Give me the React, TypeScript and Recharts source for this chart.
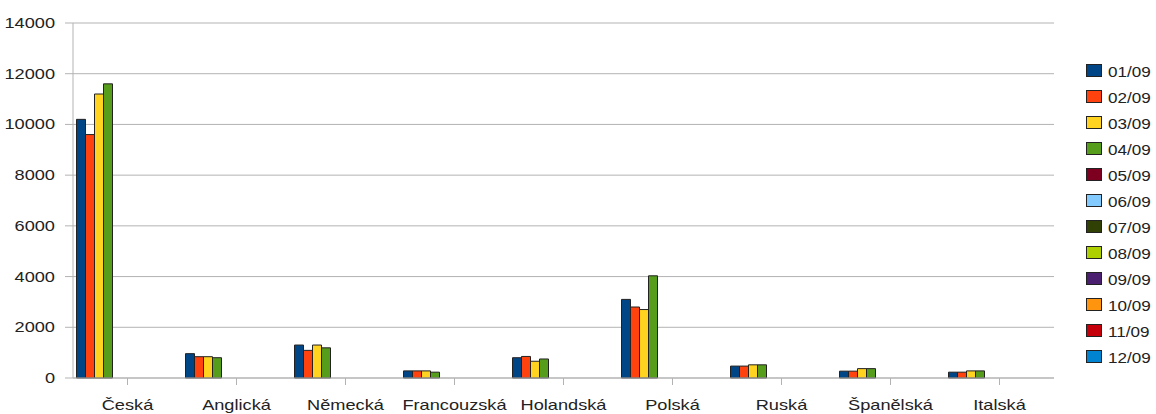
import React from 'react';
import { BarChart, Bar, XAxis, YAxis, CartesianGrid, Legend } from 'recharts';

const categories = ['Česká', 'Anglická', 'Německá', 'Francouzská', 'Holandská', 'Polská', 'Ruská', 'Španělská', 'Italská'];

// only the first four days have values
const day01 = [10200, 960, 1300, 280, 800, 3100, 470, 270, 230];
const day02 = [9600, 840, 1090, 280, 850, 2800, 470, 270, 230];
const day03 = [11200, 840, 1300, 280, 660, 2700, 520, 370, 280];
const day04 = [11600, 800, 1190, 230, 750, 4030, 520, 370, 280];

const seriesNames = ['01/09', '02/09', '03/09', '04/09', '05/09', '06/09', '07/09', '08/09', '09/09', '10/09', '11/09', '12/09'];
const seriesValues: number[][] = [day01, day02, day03, day04, [], [], [], [], [], [], [], []];
const seriesColors = ['#004586', '#ff420e', '#ffd320', '#579d1c', '#7e0021', '#83caff', '#314004', '#aecf00', '#4b1f6f', '#ff950e', '#c5000b', '#0084d1'];

const yTicks = [0, 2000, 4000, 6000, 8000, 10000, 12000, 14000];

const data = categories.map((name, i) => {
  const row: Record<string, string | number | null> = { name };
  seriesNames.forEach((_s, j) => {
    const v = seriesValues[j][i];
    row['s' + j] = v === undefined ? null : v;
  });
  return row;
});

const FONT = '"Liberation Sans", Arial, sans-serif';
const FONT_SIZE = 14;
const STRETCH = 1.3;
const GRID = '#b3b3b3';
const LEGEND_W = 70;

const YTick = (props: any) => {
  const { x, y, payload } = props;
  return (
    <g transform={`translate(${x},${y})`}>
      <text transform={`scale(${STRETCH},1)`} textAnchor="end" dy="0.36em" fill="#222" fontSize={FONT_SIZE} fontFamily={FONT}>
        {payload.value}
      </text>
    </g>
  );
};

const XTick = (props: any) => {
  const { x, y, payload } = props;
  return (
    <g transform={`translate(${x},${y})`}>
      <text transform={`scale(${STRETCH},1)`} textAnchor="middle" y={25} fill="#222" fontSize={FONT_SIZE} fontFamily={FONT}>
        {payload.value}
      </text>
    </g>
  );
};

const renderLegend = () => (
  <div style={{ fontFamily: FONT, width: LEGEND_W }}>
    {seriesNames.map((name, i) => (
      <div key={name} style={{ height: 26, display: 'flex', alignItems: 'center' }}>
        <div style={{ width: 14, height: 11, background: seriesColors[i], border: '1px solid #222', marginRight: 6 }} />
        <span style={{ fontSize: FONT_SIZE, color: '#222', display: 'inline-block', transform: `scaleX(1.22)`, transformOrigin: 'left center', marginTop: 3 }}>
          {name}
        </span>
      </div>
    ))}
  </div>
);

export default function App() {
  return (
    <div style={{ position: 'absolute', left: 0, top: 0, width: 1156, height: 414, background: '#fff' }}>
      <BarChart
        width={1156}
        height={414}
        data={data}
        margin={{ top: 23, right: 102 - LEGEND_W, bottom: 0, left: 0 }}
        barCategoryGap={3.5}
        barGap={0}
      >
        <CartesianGrid vertical={false} stroke={GRID} />
        <XAxis
          dataKey="name"
          height={36}
          stroke={GRID}
          tickSize={7}
          tickMargin={0}
          tick={<XTick />}
          interval={0}
        />
        <YAxis
          width={73}
          domain={[0, 14000]}
          ticks={yTicks}
          stroke={GRID}
          tickSize={8}
          tickMargin={10}
          tick={<YTick />}
        />
        <YAxis yAxisId="frame" orientation="right" width={0} domain={[0, 14000]} tick={false} tickLine={false} stroke={GRID} />
        <Legend
          content={renderLegend}
          layout="vertical"
          align="right"
          verticalAlign="middle"
          wrapperStyle={{ position: 'absolute', left: 1086, top: 57, width: LEGEND_W }}
        />
        {seriesNames.map((name, j) => (
          <Bar
            key={name}
            dataKey={'s' + j}
            name={name}
            fill={seriesColors[j]}
            stroke="#222"
            strokeWidth={1}
            isAnimationActive={false}
          />
        ))}
      </BarChart>
    </div>
  );
}
